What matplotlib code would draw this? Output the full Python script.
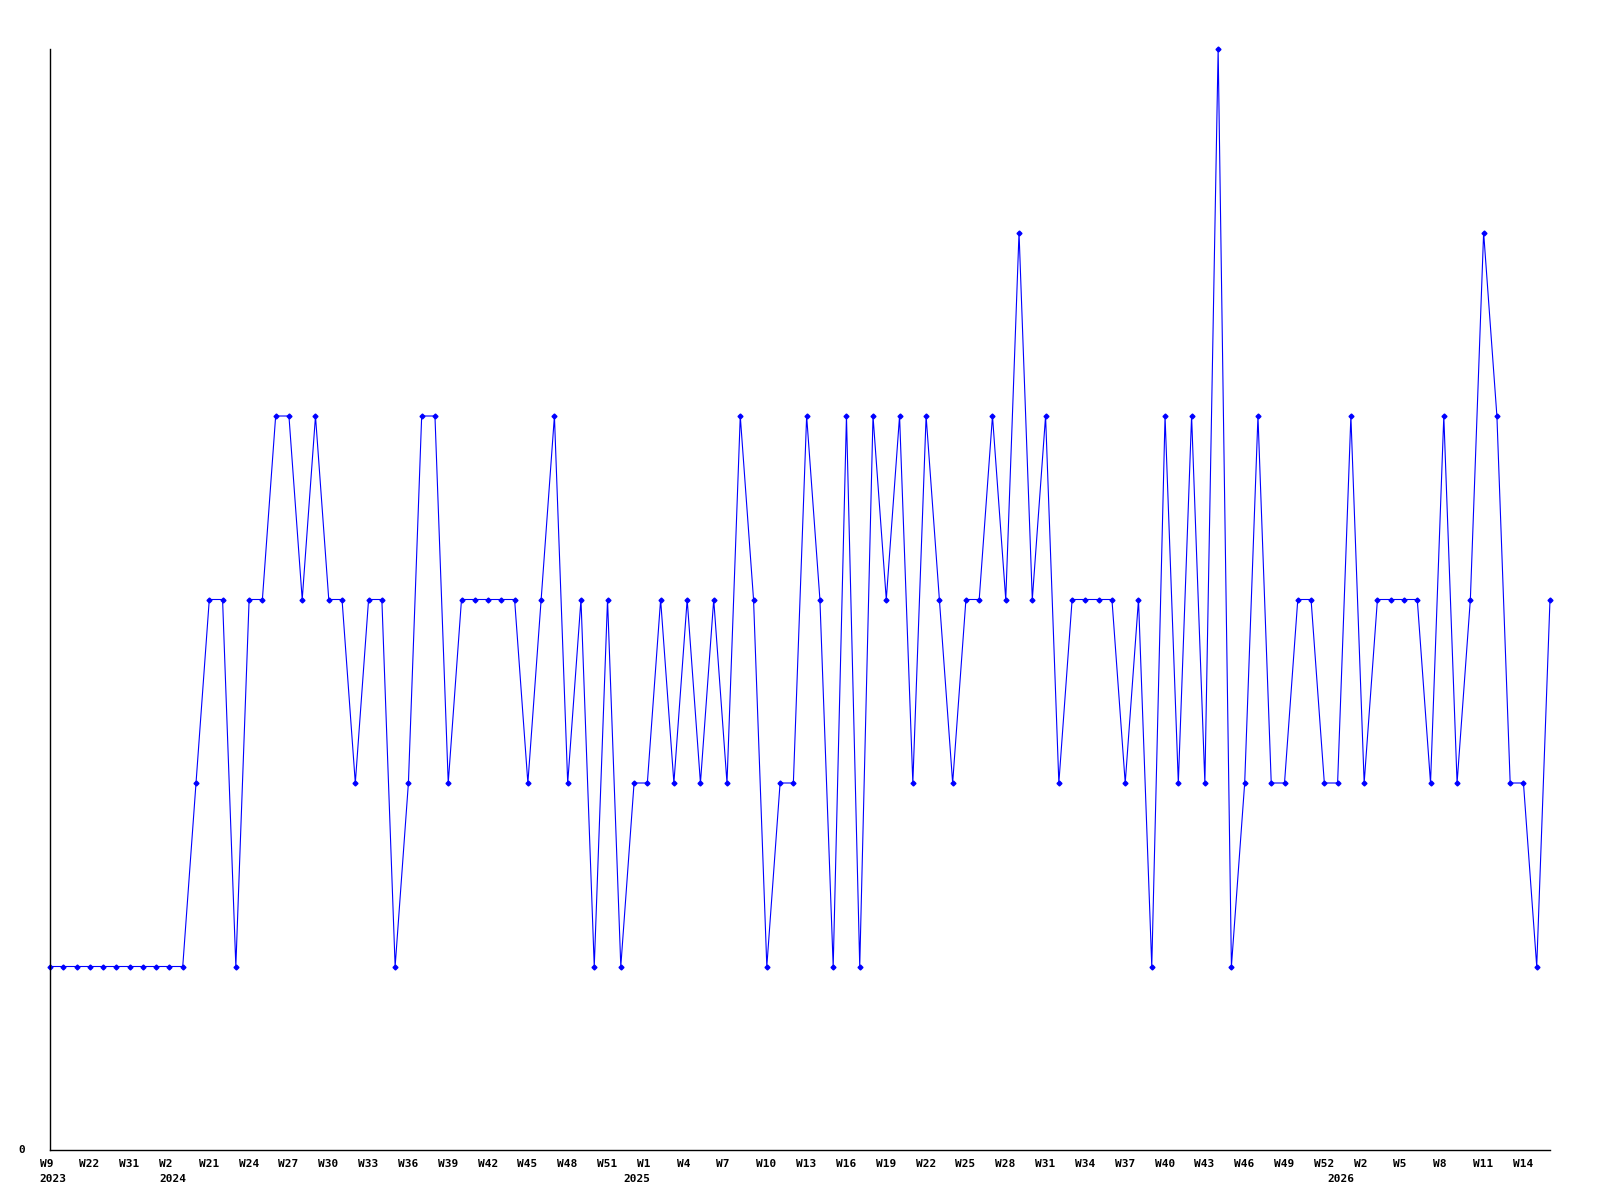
import matplotlib
matplotlib.use("Agg")
import matplotlib.pyplot as plt

# Weekly values (one per plotted point)
values = [1, 1, 1, 1, 1, 1, 1, 1, 1, 1, 1,
          2, 3, 3, 1, 3, 3, 4, 4, 3, 4, 3, 3, 2, 3, 3, 1, 2, 4, 4, 2,
          3, 3, 3, 3, 3, 2, 3, 4, 2, 3, 1, 3, 1, 2, 2, 3, 2, 3, 2, 3,
          2, 4, 3, 1, 2, 2, 4, 3, 1, 4, 1, 4, 3, 4, 2, 4, 3, 2, 3, 3,
          4, 3, 5, 3, 4, 2, 3, 3, 3, 3, 2, 3, 1, 4, 2, 4, 2, 6, 1, 2,
          4, 2, 2, 3, 3, 2, 2, 4, 2, 3, 3, 3, 3, 2, 4, 2, 3, 5, 4, 2,
          2, 1, 3]

# Tick labels (every third point)
week_labels = ["W9", "W22", "W31", "W2", "W21", "W24", "W27", "W30", "W33",
               "W36", "W39", "W42", "W45", "W48", "W51", "W1", "W4", "W7",
               "W10", "W13", "W16", "W19", "W22", "W25", "W28", "W31", "W34",
               "W37", "W40", "W43", "W46", "W49", "W52", "W2", "W5", "W8",
               "W11", "W14"]
label_step = 3
# year labels placed at the first point of each year
year_labels = {0: "2023", 9: "2024", 44: "2025", 97: "2026"}

fig = plt.figure(figsize=(16, 12), dpi=100)
ax = fig.add_axes([50 / 1600, 1 - 1150 / 1200, 1500 / 1600, 1101 / 1200])

x = list(range(len(values)))
ax.plot(x, values, color="#0000ff", linewidth=0.8, marker="D",
        markersize=2.5, markerfacecolor="#0000ff", markeredgecolor="#0000ff",
        clip_on=False)

ax.set_xlim(0, len(values) - 1)
ax.set_ylim(0, 6)
ax.set_xticks([])
ax.set_yticks([])
for s in ["top", "right"]:
    ax.spines[s].set_visible(False)
for s in ["left", "bottom"]:
    ax.spines[s].set_color("black")
    ax.spines[s].set_linewidth(1.0)

font = dict(family="DejaVu Sans Mono", fontweight="bold", fontsize=8, color="black")

for k, lab in enumerate(week_labels):
    xi = k * label_step
    ax.annotate(lab, xy=(xi, 0), xycoords=("data", "axes fraction"),
                xytext=(-10.5, -9), textcoords="offset pixels",
                ha="left", va="top", annotation_clip=False, **font)
for xi, yr in year_labels.items():
    ax.annotate(yr, xy=(xi, 0), xycoords=("data", "axes fraction"),
                xytext=(-10.5, -24), textcoords="offset pixels",
                ha="left", va="top", annotation_clip=False, **font)

ax.annotate("0", xy=(0, 0), xycoords="axes fraction",
            xytext=(-25, 0), textcoords="offset pixels",
            ha="right", va="center", annotation_clip=False, **font)

fig.savefig("out.png", dpi=100, facecolor="white")
